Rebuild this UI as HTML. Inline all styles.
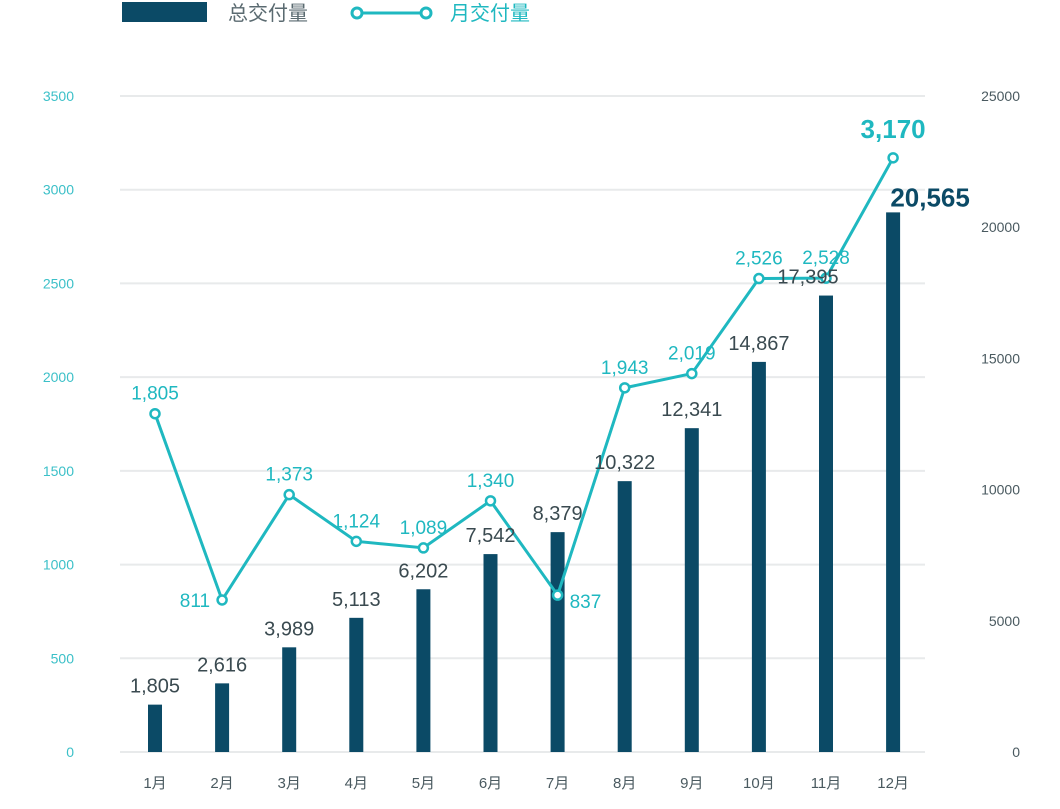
<!DOCTYPE html>
<html><head><meta charset="utf-8"><style>
body{margin:0;background:#fff}
svg text{font-family:"Liberation Sans","Noto Sans CJK SC",sans-serif}
</style></head><body>
<svg id="c" width="1060" height="804" xmlns="http://www.w3.org/2000/svg">
<g>
<rect x="122" y="2" width="85" height="20" fill="#0b4a66"/>
<text x="228" y="20" font-size="20" fill="#5a6a70">总交付量</text>
<line x1="357" y1="13" x2="426" y2="13" stroke="#1fb8c0" stroke-width="3"/>
<circle cx="357" cy="13" r="5" fill="#fff" stroke="#1fb8c0" stroke-width="3"/>
<circle cx="426" cy="13" r="5" fill="#fff" stroke="#1fb8c0" stroke-width="3"/>
<text x="450" y="20" font-size="20" fill="#1fb8c0">月交付量</text>
</g>
<g id="grid"></g><g id="bars"></g><g id="line"></g><g id="labels"></g>
</svg>
<script>
const categories=["1月","2月","3月","4月","5月","6月","7月","8月","9月","10月","11月","12月"];
const totalValues=[1805,2616,3989,5113,6202,7542,8379,10322,12341,14867,17395,20565];
const monthlyValues=[1805,811,1373,1124,1089,1340,837,1943,2019,2526,2528,3170];
const leftTicks=[0,500,1000,1500,2000,2500,3000,3500];
const rightTicks=[0,5000,10000,15000,20000,25000];
const NS="http://www.w3.org/2000/svg";
const y0=752,yTop=96,x0=155,step=67.1;
const yL=v=>y0-(v/3500)*(y0-yTop);
const yR=v=>y0-(v/25000)*(y0-yTop);
const xC=i=>x0+i*step;
const fmt=v=>v.toLocaleString("en-US");
function mk(tag,attrs,parent,txt){const e=document.createElementNS(NS,tag);for(const k in attrs)e.setAttribute(k,attrs[k]);if(txt!==undefined)e.textContent=txt;document.getElementById(parent).appendChild(e);return e;}
leftTicks.forEach(t=>{
 const l=mk("line",{x1:120,x2:925,y1:yL(t),y2:yL(t),stroke:"#e8eaeb","stroke-width":2},"grid");
 
 
 const tx=mk("text",{x:74,y:yL(t)+5,"font-size":14,fill:"#3cc0c8","text-anchor":"end"},"grid",String(t));
 
 
});
rightTicks.forEach(t=>{
 const tx=mk("text",{x:1020,y:yR(t)+5,"font-size":14,fill:"#4a5a60","text-anchor":"end"},"grid",String(t));
 
 
});
categories.forEach((c,i)=>{
 const tx=mk("text",{x:xC(i),y:788,"font-size":15,fill:"#4a5a60","text-anchor":"middle"},"grid",c);
 
 
});
totalValues.forEach((v,i)=>{
 const r=mk("rect",{x:xC(i)-7,y:yR(v),width:14,height:y0-yR(v),fill:"#0b4a66"},"bars");
 
 
 const last=i===totalValues.length-1;
 let lx=xC(i),ly=yR(v)-12;
 if(i===10){lx=xC(i)-18;}
 if(last){lx=xC(i)+37;ly=yR(v)-6;}
 const t=mk("text",{x:lx,y:ly,"font-size":last?26:20,"font-weight":last?"bold":"normal",fill:last?"#0b4a66":"#3a4a50","text-anchor":"middle"},"labels",fmt(v));
 
 
});
const pts=monthlyValues.map((v,i)=>xC(i)+","+yL(v)).join(" ");
const pl=mk("polyline",{points:pts,fill:"none",stroke:"#1fb8c0","stroke-width":3},"line");


monthlyValues.forEach((v,i)=>{
 const c=mk("circle",{cx:xC(i),cy:yL(v),r:4.5,fill:"#fff",stroke:"#1fb8c0","stroke-width":2.5},"line");
 
 
 const last=i===monthlyValues.length-1;
 let lx=xC(i),ly=yL(v)-14,anchor="middle";
 if(i===1){lx=xC(i)-12;ly=yL(v)+7;anchor="end";}
 if(i===6){lx=xC(i)+12;ly=yL(v)+13;anchor="start";}
 if(last){ly=yL(v)-20;}
 const t=mk("text",{x:lx,y:ly,"font-size":last?26:19,"font-weight":last?"bold":"normal",fill:"#1fb8c0","text-anchor":anchor},"labels",fmt(v));
 
 
});
</script>
</body></html>
